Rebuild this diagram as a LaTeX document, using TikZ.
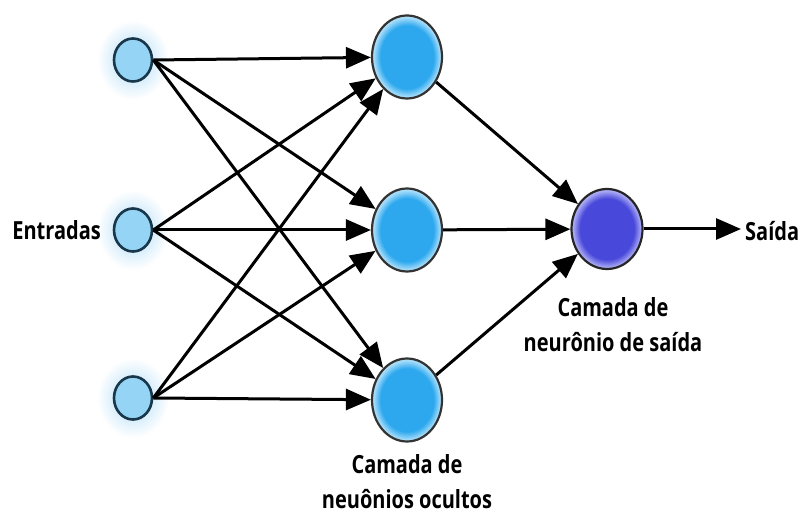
\documentclass[tikz,border=0pt]{standalone}
\usepackage{fontspec}
\setmainfont{Open Sans}[FakeStretch=0.8]
\usetikzlibrary{shapes.geometric,arrows.meta}
\definecolor{glow}{RGB}{170,218,247}
\definecolor{infill}{RGB}{150,212,245}
\definecolor{inedge}{RGB}{25,55,75}
\definecolor{hidfill}{RGB}{45,168,238}
\definecolor{hidlight}{RGB}{170,222,250}
\definecolor{outfill}{RGB}{72,72,218}
\definecolor{outlight}{RGB}{170,170,245}
% flat fill with a pale rim just inside the outline
\pgfdeclareradialshading{hidball}{\pgfpoint{0bp}{0bp}}{%
  color(0bp)=(hidfill); color(19bp)=(hidfill); color(24bp)=(hidlight);
  color(25bp)=(hidlight); color(50bp)=(hidlight)}
\pgfdeclareradialshading{outball}{\pgfpoint{0bp}{0bp}}{%
  color(0bp)=(outfill); color(19bp)=(outfill); color(24bp)=(outlight);
  color(25bp)=(outlight); color(50bp)=(outlight)}
\tikzset{
  inputnode/.style={ellipse, draw=inedge, line width=2.6pt, fill=infill,
    minimum width=38pt, minimum height=43pt, inner sep=0pt},
  hiddennode/.style={ellipse, draw=black!80, line width=2.2pt,
    shading=hidball, minimum width=70pt, minimum height=83pt, inner sep=0pt},
  outputnode/.style={ellipse, draw=black!85, line width=2.2pt,
    shading=outball, minimum width=71pt, minimum height=80pt, inner sep=0pt},
  link/.style={line width=3pt, black, -{Triangle[length=25pt,width=21pt]}},
  caption/.style={font=\bfseries\fontsize{25}{35}\selectfont, align=center, inner sep=0pt}
}
\begin{document}
\begin{tikzpicture}[x=1pt,y=-1pt]
  \useasboundingbox (0,0) rectangle (805,518);
  % soft halo behind the input units
  \foreach \yy in {60,230,398}{
    \shade[inner color=glow, outer color=white] (133,\yy) ellipse (36pt and 40pt);
  }
  % input layer
  \node[inputnode] (i1) at (133,60) {};
  \node[inputnode] (i2) at (133,230) {};
  \node[inputnode] (i3) at (133,398) {};
  % hidden layer
  \node[hiddennode] (h1) at (407,57) {};
  \node[hiddennode] (h2) at (407,230) {};
  \node[hiddennode] (h3) at (407,400) {};
  % output unit
  \node[outputnode] (o) at (607,229) {};
  \coordinate (out) at (741,229);
  % input -> hidden connections
  \foreach \a in {1,2,3}{
    \foreach \b in {1,2,3}{
      \draw[link] (i\a.east) -- (h\b);
    }
  }
  % hidden -> output connections
  \foreach \b in {1,2,3}{
    \draw[link] (h\b) -- (o);
  }
  \draw[link] (o.east) -- (out);
  % labels
  \node[caption, anchor=east] (lin) at (101,230) {Entradas};
  \node[caption, anchor=west] (lout) at (745,231) {Saída};
  \node[caption, anchor=north] (lhid) at (407,454) {Camada de\\neuônios ocultos};
  \node[caption, anchor=north] (lo) at (613,297) {Camada de\\neurônio de saída};
\end{tikzpicture}
\end{document}
